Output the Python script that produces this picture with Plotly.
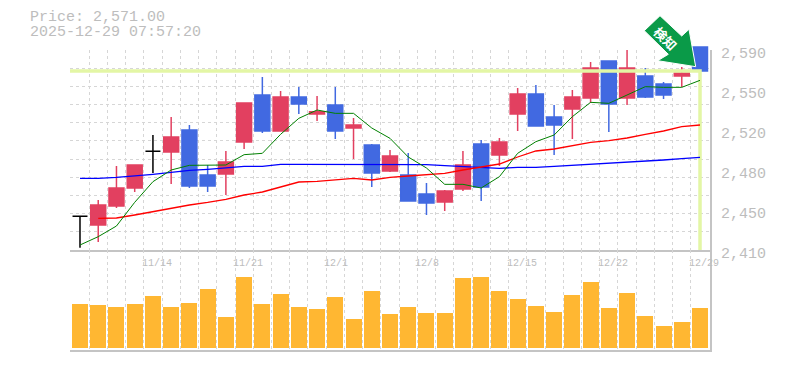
import plotly.graph_objects as go

W, H = 785, 370
PLOT_L, PLOT_R = 70, 710

# ---- data ----
idx = list(range(35))
opens = [2440.3,2432.5,2449.6,2465.8,2498.8,2498.2,2518.0,2477.5,2478.4,2507.2,2549.5,2517.1,2547.7,2532.4,2540.5,2519.8,
         2504.5,2481.1,2477.5,2460.4,2453.2,2464.9,2505.4,2495.5,2532.4,2550.4,2529.7,2536.9,2546.8,2580.1,2546.8,2566.6,2559.4,2566.6,2592.7]
closes = [2440.3,2450.5,2465.8,2486.5,2498.8,2511.7,2467.6,2467.6,2489.2,2542.3,2517.1,2547.7,2541.4,2534.5,2517.1,2522.5,
          2479.3,2494.6,2454.1,2452.3,2463.1,2486.5,2466.7,2507.2,2550.4,2521.6,2522.5,2547.7,2573.8,2541.4,2573.8,2547.7,2549.5,2569.3,2571.0]
highs = [2440.3,2455.0,2485.6,2486.5,2513.5,2529.7,2522.5,2486.5,2499.1,2542.3,2565.7,2553.1,2556.7,2548.6,2556.7,2528.8,
         2505.4,2500.0,2497.3,2470.3,2464.0,2499.1,2509.0,2510.8,2555.8,2558.5,2540.5,2554.0,2579.2,2580.1,2590.0,2573.8,2561.2,2574.7,2592.7]
lows = [2412.1,2417.2,2447.8,2462.2,2479.3,2469.4,2465.8,2462.2,2459.5,2500.9,2515.3,2517.1,2532.4,2526.1,2509.9,2491.9,
        2466.7,2480.2,2454.1,2441.5,2445.1,2463.1,2454.1,2485.6,2517.1,2521.6,2495.5,2509.9,2542.3,2516.2,2540.5,2546.8,2545.9,2556.7,2555.8]
ma_green = [2414.5,2422.0,2431.6,2452.9,2471.5,2482.0,2486.2,2486.2,2486.5,2495.8,2497.0,2514.1,2528.5,2536.0,2533.0,2533.0,
            2519.8,2510.5,2493.7,2483.8,2469.1,2469.1,2465.8,2476.0,2497.0,2507.5,2513.5,2530.0,2542.9,2542.0,2549.5,2557.0,2556.4,2556.4,2562.7]
ma_red = [None,2438.4,2438.8,2441.5,2444.7,2447.8,2450.5,2452.8,2455.5,2459.5,2462.2,2466.7,2471.2,2471.7,2473.0,2474.4,
          2473.0,2475.3,2476.6,2477.5,2478.9,2482.0,2484.7,2487.4,2493.7,2499.1,2500.9,2503.6,2506.9,2508.4,2510.8,2514.1,2517.1,2521.0,2522.5]
ma_blue = [2474.5,2474.5,2475.4,2476.6,2478.1,2479.8,2481.6,2482.6,2483.8,2485.2,2485.3,2487.1,2487.1,2487.1,2487.1,2487.1,
           2487.1,2487.0,2487.0,2486.8,2486.0,2485.2,2484.7,2483.5,2484.4,2484.4,2485.3,2486.2,2487.1,2487.9,2488.9,2490.1,2491.0,2492.2,2493.4]
volume = [44,43,41,44,52,41,45,59,31,71,44,54,41,39,51,29,57,34,41,35,35,70,71,57,49,42,36,53,66,40,55,32,22,26,40]
price_now = 2571.0
date_idx = [4, 9, 14, 19, 24, 29, 34]
date_labels = ["11/14", "11/21", "12/1", "12/8", "12/15", "12/22", "12/29"]
price_ticks = [2590, 2554, 2518, 2482, 2446, 2410]
price_tick_text = ["2,590", "2,550", "2,520", "2,480", "2,450", "2,410"]
header = ["Price: 2,571.00", "2025-12-29 07:57:20"]
arrow_label = "検知"

# ---- styles ----
RED, BLUE, BLACK = "#E24060", "#4169E1", "#000000"
GRID, FRAME, TEXT = "#d6d6d6", "#c4c4c4", "#bdbdbd"
MONO = "Liberation Mono"
XR = [-0.548, 34.548]

def ydom(top, bottom):
    return [1 - bottom / H, 1 - top / H]

fig = go.Figure()

# last-price marker line
fig.add_trace(go.Scatter(x=[XR[0], 34, 34], y=[price_now, price_now, 2410], mode="lines",
                         line=dict(color="#E3F6A5", width=3.5), xaxis="x3", yaxis="y3", hoverinfo="skip"))
for ma, col, w in [(ma_blue, "#0000ff", 1.3), (ma_red, "#ff0000", 1.3), (ma_green, "#008000", 1.0)]:
    fig.add_trace(go.Scatter(x=idx, y=ma, mode="lines", line=dict(color=col, width=w, shape="linear"),
                             xaxis="x3", yaxis="y3", hoverinfo="skip"))

def pick(seq, sel):
    return [seq[i] for i in sel]

groups = {
    RED: [i for i in idx if closes[i] > opens[i]],
    BLUE: [i for i in idx if closes[i] < opens[i]],
    BLACK: [i for i in idx if closes[i] == opens[i]],
}
for col, sel in groups.items():
    side = dict(line=dict(color=col, width=1.5), fillcolor=col)
    fig.add_trace(go.Candlestick(x=sel, open=pick(opens, sel), high=pick(highs, sel), low=pick(lows, sel),
                                 close=pick(closes, sel), increasing=side, decreasing=side,
                                 whiskerwidth=0, xaxis="x3", yaxis="y3", hoverinfo="skip"))

fig.add_trace(go.Bar(x=idx, y=volume, width=0.877, marker=dict(color="#FFB732", line=dict(width=0)),
                     xaxis="x2", yaxis="y2", hoverinfo="skip"))
# carrier for the price labels axis
fig.add_trace(go.Scatter(x=[0], y=[2410], mode="none", xaxis="x3", yaxis="y4", hoverinfo="skip"))

# signal arrow, drawn in page pixels on an overlay subplot so its label stays on top
arrow_px_x = [660, 644.3, 668.3, 657.7, 695.7, 689, 681.7, 660]
arrow_px_y = [15.7, 30.7, 54.3, 60.7, 66.7, 29.3, 36, 15.7]
fig.add_trace(go.Scatter(x=arrow_px_x, y=arrow_px_y, mode="lines", fill="toself", fillcolor="#0A9A48",
                         line=dict(color="white", width=1), xaxis="x5", yaxis="y5", hoverinfo="skip"))

xgrid = dict(tickmode="linear", tick0=-0.5, dtick=1, showgrid=True, gridcolor=GRID, gridwidth=1,
             griddash="3px,3px", showticklabels=False, ticks="", zeroline=False, range=XR,
             domain=[PLOT_L / W, PLOT_R / W], showline=True, linecolor=FRAME, linewidth=2)

fig.update_layout(
    width=W, height=H, margin=dict(l=0, r=0, t=0, b=0), paper_bgcolor="white", plot_bgcolor="rgba(0,0,0,0)",
    showlegend=False, hovermode=False, boxmode="overlay", boxgap=0.18, boxgroupgap=0, bargap=0,
    xaxis=dict(anchor="y", **xgrid),
    xaxis2=dict(anchor="y2", **xgrid),
    xaxis3=dict(anchor="y3", range=XR, domain=[PLOT_L / W, PLOT_R / W], visible=False,
                rangeslider=dict(visible=False)),
    xaxis5=dict(anchor="y5", range=[0, W], domain=[0, 1], visible=False),
    yaxis=dict(anchor="x", domain=ydom(50, 250), range=[2410, 2590], tickmode="linear", tick0=2410, dtick=180 / 11,
               showgrid=True, gridcolor=GRID, griddash="3px,3px", showticklabels=False, ticks="", zeroline=False,
               side="right", showline=True, linecolor=FRAME, linewidth=2),
    yaxis2=dict(anchor="x2", domain=ydom(250, 350), range=[-2, 98], showgrid=False, showticklabels=False,
                ticks="", zeroline=False, side="right", showline=True, linecolor=FRAME, linewidth=2),
    yaxis3=dict(anchor="x3", domain=ydom(40, 250), range=[2410, 2599], visible=False),
    yaxis4=dict(anchor="x3", domain=ydom(40, 265), range=[2399.2, 2601.7], side="right", showgrid=False,
                zeroline=False, showline=False, tickmode="array", tickvals=price_ticks, ticktext=price_tick_text,
                ticks="outside", ticklen=7, tickcolor="rgba(0,0,0,0)",
                tickfont=dict(family=MONO, size=15, color=TEXT)),
    yaxis5=dict(anchor="x5", range=[H, 0], domain=[0, 1], visible=False),
)

ann = [dict(text=header[0], x=28 / W, y=1 - 18 / H), dict(text=header[1], x=28 / W, y=1 - 33 / H)]
annotations = [dict(xref="paper", yref="paper", xanchor="left", yanchor="middle", showarrow=False, height=15,
                    font=dict(family=MONO, size=15, color=TEXT), **a) for a in ann]
for i, lab in zip(date_idx, date_labels):
    annotations.append(dict(text=lab, xref="x", x=i - 0.5, yref="paper", y=1 - 263 / H, xanchor="left",
                            yanchor="middle", showarrow=False, borderpad=0, xshift=-3,
                            font=dict(family=MONO, size=10, color=TEXT)))
annotations.append(dict(text="<b>%s</b>" % arrow_label, xref="x5", yref="y5", x=666, y=38, xanchor="center",
                        yanchor="middle", showarrow=False, textangle=45,
                        font=dict(family="Noto Sans CJK JP", size=13, color="#ffffff")))
fig.update_layout(annotations=annotations)

fig.write_html("out.html", config={"displayModeBar": False}, post_script="document.body.style.margin='0';")
